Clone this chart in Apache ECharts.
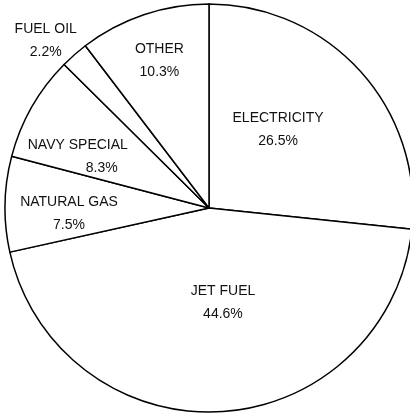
<!DOCTYPE html>
<html>
<head>
<meta charset="utf-8">
<script src="https://cdn.jsdelivr.net/npm/echarts@6/dist/echarts.min.js"></script>
<style>
html,body{margin:0;padding:0;background:#fff;}
#chart{width:410px;height:417px;}
</style>
</head>
<body>
<div id="chart"></div>
<script>
var categories = ['ELECTRICITY', 'JET FUEL', 'NATURAL GAS', 'NAVY SPECIAL', 'FUEL OIL', 'OTHER'];
var shares = [26.5, 44.6, 7.5, 8.3, 2.2, 10.3];

// label nudges relative to the library's inside label position
var labelNudge = [[-9, -8], [8, -10.5], [-35, 8], [-40, 0.5], [-94, -88], [-16, -48]];

var FONT = "'Liberation Sans', Arial, sans-serif";
var chart = echarts.init(document.getElementById('chart'), null, {renderer: 'canvas'});

var data = categories.map(function (c, i) {
  return { name: c, value: shares[i] };
});

chart.setOption({
  animation: false,
  backgroundColor: '#fff',
  series: [{
    type: 'pie',
    center: [209, 208],
    radius: [0, 204],
    startAngle: 90,
    clockwise: true,
    silent: true,
    avoidLabelOverlap: false,
    itemStyle: { color: '#fff', borderColor: '#000', borderWidth: 1.5 },
    emphasis: { disabled: true },
    label: {
      show: true,
      position: 'inside',
      color: '#111',
      fontFamily: FONT,
      fontSize: 14,
      lineHeight: 23,
      align: 'center',
      formatter: function (p) {
        var v = p.value.toFixed(1) + '%';
        if (p.name === 'NAVY SPECIAL') {
          return '{a|' + p.name + '}\n{b|' + v + '}';
        }
        return '{a|' + p.name + '}\n{a|' + v + '}';
      },
      rich: {
        a: { fontFamily: FONT, fontSize: 14, lineHeight: 23, color: '#111' },
        b: { fontFamily: FONT, fontSize: 14, lineHeight: 23, color: '#111', padding: [0, 0, 0, 48] }
      }
    },
    labelLine: { show: false },
    labelLayout: function (params) {
      var n = labelNudge[params.dataIndex];
      return { dx: n[0], dy: n[1] };
    },
    data: data
  }]
});
</script>
</body>
</html>
